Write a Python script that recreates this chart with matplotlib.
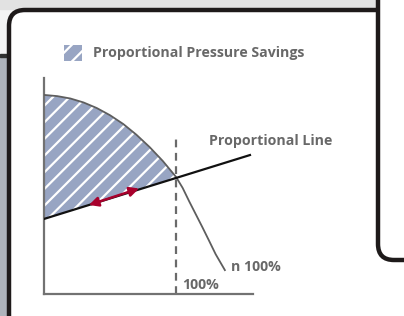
import matplotlib
matplotlib.use('Agg')
import matplotlib.pyplot as plt
from matplotlib.patches import Rectangle, FancyBboxPatch
import numpy as np

# pump curve n 100% (flow, head)
pump_flow = [0.0, 0.1, 0.2, 0.3, 0.4, 0.5, 0.6, 0.7, 0.8, 0.9, 1.0,
             1.05, 1.1, 1.15, 1.2, 1.25, 1.3, 1.37]
pump_head = [1.0, 0.994, 0.982, 0.962, 0.934, 0.898, 0.854, 0.800, 0.738, 0.668, 0.588,
             0.533, 0.465, 0.400, 0.335, 0.268, 0.200, 0.12]

# proportional control line
prop_flow = [0.0, 1.56]
prop_head = [0.377, 0.698]

# red double arrow on the proportional line
arrow_start = (0.34, 0.447)
arrow_end = (0.72, 0.530)

legend_label = 'Proportional Pressure Savings'
line_label = 'Proportional Line'
curve_label = 'n 100%'
flow_label = '100%'

TEXT_GRAY = '#686868'
FILL = '#98a5c3'
plt.rcParams['hatch.linewidth'] = 1.6


def main():
    fig = plt.figure(figsize=(4.04, 3.16), dpi=100)

    # background / frame in pixel coordinates
    bg = fig.add_axes([0, 0, 1, 1])
    bg.set_xlim(0, 404)
    bg.set_ylim(316, 0)
    bg.axis('off')
    bg.add_patch(Rectangle((0, 0), 404, 316, color='#f4f4f4', zorder=0))
    bg.add_patch(Rectangle((0, 0), 404, 9, color='#e2e2e2', zorder=0))
    bg.add_patch(Rectangle((0, 56), 10, 260, color='#aeb3bb', zorder=0))
    bg.add_patch(Rectangle((0, 54), 10, 3, color='#303030', zorder=0))
    bg.add_patch(Rectangle((378, 258), 26, 58, color='#c8c8c8', zorder=0))
    # left card
    bg.add_patch(FancyBboxPatch((9, 10), 420, 340, boxstyle='round,pad=0,rounding_size=16',
                                facecolor='white', edgecolor='#1e1a1a', lw=3.2, zorder=1))
    # right card
    bg.add_patch(FancyBboxPatch((378, -40), 60, 300, boxstyle='round,pad=0,rounding_size=16',
                                facecolor='white', edgecolor='#1e1a1a', lw=3.2, zorder=2))

    # legend entry
    bg.add_patch(Rectangle((64, 45), 18, 16, facecolor=FILL, edgecolor='white',
                           hatch='//', lw=0, zorder=3))
    bg.text(93, 53, legend_label, color=TEXT_GRAY, fontsize=10.2, fontweight='bold',
            family='Open Sans', va='center', ha='left', zorder=3)

    ax = fig.add_axes([44 / 404, 22 / 316, 209 / 404, 216 / 316])
    ax.patch.set_alpha(0)
    ax.set_xlim(0, 1.583)
    ax.set_ylim(0, 1.085)
    for side in ('top', 'right'):
        ax.spines[side].set_visible(False)
    for side in ('left', 'bottom'):
        ax.spines[side].set_color('#727272')
        ax.spines[side].set_linewidth(1.6)
    ax.set_xticks([])
    ax.set_yticks([])

    n_fill = pump_flow.index(1.0) + 1
    q = np.array(pump_flow[:n_fill])
    line_at_q = np.interp(q, prop_flow, prop_head)
    ax.fill_between(q, pump_head[:n_fill], line_at_q, facecolor=FILL,
                    edgecolor='white', hatch='//', lw=0, zorder=1)

    ax.plot(pump_flow, pump_head, color='#5e5e5e', lw=1.3, zorder=3)
    ax.plot(prop_flow, prop_head, color='#111111', lw=1.6, zorder=4)
    ax.plot([1.0, 1.0], [0.0, 0.79], color='#6a6a6a', lw=1.6,
            dashes=(3.5, 2.5), zorder=2)

    ax.annotate('', xy=arrow_end, xytext=arrow_start,
                arrowprops=dict(arrowstyle='<|-|>', color='#a8002c', lw=1.8,
                                mutation_scale=14, shrinkA=0, shrinkB=0), zorder=5)

    txt = dict(color=TEXT_GRAY, fontsize=10.2, fontweight='bold', family='Open Sans')
    ax.text(1.25, 0.769, line_label, ha='left', va='center', **txt)
    ax.text(1.42, 0.135, curve_label, ha='left', va='center', **txt)
    ax.text(1.045, 0.045, flow_label, ha='left', va='center', **txt)

    fig.savefig('out.png', dpi=100)


if __name__ == '__main__':
    main()
